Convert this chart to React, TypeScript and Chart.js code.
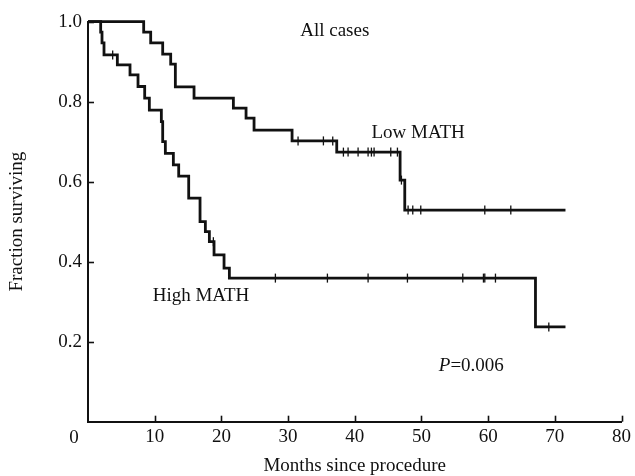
import React, { useEffect, useRef } from "react";
import { Chart, registerables } from "chart.js";

Chart.register(...registerables);

// ---- Data ----
const lowTimes = [0, 8.35, 9.4, 11.2, 12.4, 13.1, 15.9, 21.8, 23.7, 24.9, 30.6, 37.3, 46.8, 47.5, 71.6];
const lowSurv = [1, 0.974, 0.947, 0.919, 0.894, 0.837, 0.809, 0.784, 0.759, 0.729, 0.702, 0.674, 0.604, 0.529, 0.529];
const lowCensor = [31.5, 35.3, 36.7, 38.3, 39.0, 40.5, 42.0, 42.5, 42.9, 45.4, 46.4, 47.0, 48.0, 48.7, 49.9, 59.5, 63.4];

const highTimes = [0, 1.9, 2.1, 2.4, 4.4, 6.3, 7.5, 8.5, 9.2, 11.0, 11.2, 11.6, 12.8, 13.6, 15.1, 16.8, 17.6, 18.2, 18.9, 20.4, 21.2, 67.1, 71.6];
const highSurv = [1, 0.974, 0.947, 0.917, 0.892, 0.867, 0.838, 0.809, 0.779, 0.75, 0.7, 0.671, 0.642, 0.614, 0.559, 0.5, 0.475, 0.45, 0.417, 0.384, 0.359, 0.237, 0.237];
const highCensor = [3.7, 18.8, 28.1, 35.9, 42.0, 47.9, 56.2, 59.3, 59.5, 61.1, 69.1];

const xTicks = [0, 10, 20, 30, 40, 50, 60, 70, 80];
const yTicks = [0.2, 0.4, 0.6, 0.8, 1.0];

const xTitle = "Months since procedure";
const yTitle = "Fraction surviving";
const titleText = "All cases";
const lowLabel = "Low MATH";
const highLabel = "High MATH";
const pLabelItalic = "P";
const pLabelRest = "=0.006";

const FONT = "'Liberation Serif', 'Times New Roman', serif";
const FS = 19;
const INK = "#111111";

function levelAt(times: number[], surv: number[], t: number): number {
  let v = surv[0];
  for (let i = 0; i < times.length; i++) {
    if (times[i] <= t) v = surv[i];
  }
  return v;
}

const annotPlugin = {
  id: "kmAnnot",
  afterDraw(chart: any) {
    const { ctx } = chart;
    const xs = chart.scales.x;
    const ys = chart.scales.y;
    ctx.save();
    ctx.strokeStyle = INK;
    ctx.lineWidth = 1.6;
    // inward tick marks
    const tl = 6;
    xTicks.forEach((v) => {
      if (v === 0) return;
      const px = Math.round(xs.getPixelForValue(v)) + 0.5;
      ctx.beginPath();
      ctx.moveTo(px, ys.bottom);
      ctx.lineTo(px, ys.bottom - tl);
      ctx.stroke();
    });
    yTicks.forEach((v) => {
      const py = Math.round(ys.getPixelForValue(v)) + 0.5;
      ctx.beginPath();
      ctx.moveTo(xs.left, py);
      ctx.lineTo(xs.left + tl, py);
      ctx.stroke();
    });
    // "0" origin label, shifted left of the axis
    ctx.fillStyle = INK;
    ctx.font = `${FS}px ${FONT}`;
    ctx.textAlign = "center";
    ctx.textBaseline = "middle";
    ctx.fillText("0", xs.getPixelForValue(0) - 14, 438);

    // annotations
    ctx.textAlign = "center";
    ctx.fillText(titleText, xs.getPixelForValue(37), ys.getPixelForValue(0.976));
    ctx.textAlign = "left";
    ctx.fillText(lowLabel, xs.getPixelForValue(42.5), ys.getPixelForValue(0.722));
    ctx.fillText(highLabel, xs.getPixelForValue(9.7), ys.getPixelForValue(0.314));
    const px = xs.getPixelForValue(52.6);
    const py = ys.getPixelForValue(0.139);
    ctx.font = `italic ${FS}px ${FONT}`;
    ctx.fillText(pLabelItalic, px, py);
    const w = ctx.measureText(pLabelItalic).width;
    ctx.font = `${FS}px ${FONT}`;
    ctx.fillText(pLabelRest, px + w, py);
    ctx.restore();
  },
};

export default function App() {
  const ref = useRef<HTMLCanvasElement | null>(null);

  useEffect(() => {
    if (!ref.current) return;
    const lowPts = lowTimes.map((t, i) => ({ x: t, y: lowSurv[i] }));
    const highPts = highTimes.map((t, i) => ({ x: t, y: highSurv[i] }));
    const lowC = lowCensor.map((t) => ({ x: t, y: levelAt(lowTimes, lowSurv, t) }));
    const highC = highCensor.map((t) => ({ x: t, y: levelAt(highTimes, highSurv, t) }));

    const chart = new Chart(ref.current, {
      type: "line",
      data: {
        datasets: [
          {
            label: lowLabel,
            data: lowPts,
            stepped: true,
            borderColor: INK,
            borderWidth: 2.8,
            pointRadius: 0,
            fill: false,
            clip: false,
          },
          {
            label: highLabel,
            data: highPts,
            stepped: true,
            borderColor: INK,
            borderWidth: 2.8,
            pointRadius: 0,
            fill: false,
            clip: false,
          },
          {
            type: "scatter",
            label: "Low censored",
            data: lowC,
            showLine: false,
            pointStyle: "line",
            rotation: 90,
            pointRadius: 4.5,
            borderColor: INK,
            borderWidth: 1.3,
            clip: false,
          } as any,
          {
            type: "scatter",
            label: "High censored",
            data: highC,
            showLine: false,
            pointStyle: "line",
            rotation: 90,
            pointRadius: 4.5,
            borderColor: INK,
            borderWidth: 1.3,
            clip: false,
          } as any,
        ],
      },
      options: {
        responsive: false,
        animation: false,
        events: [],
        layout: { padding: { top: 21.7, right: 10, left: 0, bottom: 0 } },
        plugins: { legend: { display: false }, tooltip: { enabled: false } },
        scales: {
          x: {
            type: "linear",
            min: 0,
            max: 80,
            afterFit: (s: any) => {
              s.height = 54.3;
            },
            afterBuildTicks: (s: any) => {
              s.ticks = xTicks.map((v) => ({ value: v }));
            },
            ticks: {
              color: INK,
              font: { family: FONT, size: FS },
              padding: 4,
              maxRotation: 0,
              callback: (v: any) => (v === 0 ? "" : String(v)),
            },
            grid: { display: true, drawOnChartArea: false, drawTicks: false },
            border: { display: true, color: INK, width: 2 },
            title: {
              display: true,
              text: xTitle,
              color: INK,
              font: { family: FONT, size: FS },
              padding: { top: 0, bottom: -1 },
            },
          },
          y: {
            type: "linear",
            min: 0,
            max: 1,
            afterFit: (s: any) => {
              s.width = 88;
            },
            afterBuildTicks: (s: any) => {
              s.ticks = [0, ...yTicks].map((v) => ({ value: v }));
            },
            ticks: {
              color: INK,
              font: { family: FONT, size: FS },
              padding: 6,
              callback: (v: any) => (v === 0 ? "" : Number(v).toFixed(1)),
            },
            grid: { display: true, drawOnChartArea: false, drawTicks: false },
            border: { display: true, color: INK, width: 2 },
            title: {
              display: true,
              text: yTitle,
              color: INK,
              font: { family: FONT, size: FS },
              padding: { top: 6, bottom: 0 },
            },
          },
        },
      },
      plugins: [annotPlugin],
    });
    return () => chart.destroy();
  }, []);

  return (
    <div style={{ position: "fixed", left: 0, top: 0, width: 635, height: 476, background: "#fff" }}>
      <canvas ref={ref} width={635} height={476} style={{ display: "block" }} />
    </div>
  );
}
